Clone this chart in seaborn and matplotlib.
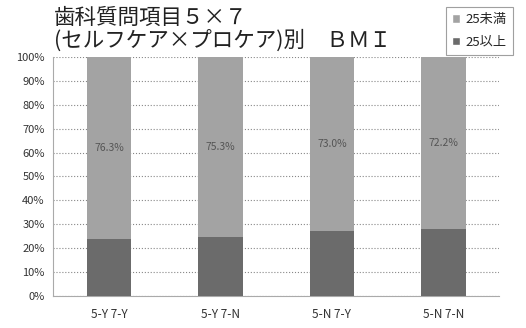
import numpy as np
import matplotlib.pyplot as plt
import pandas as pd
import seaborn as sns
from matplotlib.patches import Patch

# データ
categories = ['5-Y 7-Y', '5-Y 7-N', '5-N 7-Y', '5-N 7-N']
under25 = [76.3, 75.3, 73.0, 72.2]
over25 = [23.7, 24.7, 27.0, 27.8]
series_names = ['25未満', '25以上']

sns.set_style('white')
plt.rcParams['font.family'] = ['Noto Sans CJK JP', 'DejaVu Sans']

df = pd.DataFrame({'cat': categories, 'under': under25, 'over': over25})
df['total'] = df['under'] + df['over']

fig = plt.figure(figsize=(5.26, 3.28), dpi=100)
ax = fig.add_axes([0.101, 0.098, 0.848, 0.728])

light = '#a3a3a3'
dark = '#6b6b6b'

# 積み上げ棒（全体→下段）
sns.barplot(data=df, x='cat', y='total', color=light, width=0.4, ax=ax,
            saturation=1, linewidth=0, zorder=3)
sns.barplot(data=df, x='cat', y='over', color=dark, width=0.4, ax=ax,
            saturation=1, linewidth=0, zorder=4)

for i, (u, o) in enumerate(zip(under25, over25)):
    ax.text(i, o + u / 2, f'{u:.1f}%', ha='center', va='center',
            fontsize=7.5, color='#555555', zorder=5)

ax.set_ylim(0, 100)
ax.set_xlim(-0.5, 3.5)
ax.set_yticks(np.arange(0, 101, 10))
ax.set_yticklabels([f'{v}%' for v in range(0, 101, 10)], fontsize=8,
                   color='#333333')
ax.tick_params(axis='x', labelsize=8.5, colors='#333333', length=0, pad=9)
ax.tick_params(axis='y', length=0, pad=6)
ax.set_xlabel('')
ax.set_ylabel('')
ax.yaxis.grid(True, linestyle=':', color='#888888', linewidth=0.8, zorder=0)
ax.set_axisbelow(True)
for s in ['top', 'right']:
    ax.spines[s].set_visible(False)
ax.spines['left'].set_color('#aaaaaa')
ax.spines['bottom'].set_color('#aaaaaa')
ax.spines['left'].set_linewidth(0.8)
ax.spines['bottom'].set_linewidth(0.8)

fig.text(0.102, 0.98, '歯科質問項目５×７\n(セルフケア×プロケア)別　ＢＭＩ',
         ha='left', va='top', fontsize=15.5, linespacing=1.05, color='#222222')

handles = [Patch(facecolor=light, label=series_names[0]),
           Patch(facecolor=dark, label=series_names[1])]
leg = fig.legend(handles=handles, loc='upper right', bbox_to_anchor=(0.988, 1.0),
                 fontsize=9.5, frameon=True, fancybox=False, edgecolor='#888888',
                 handlelength=0.6, handleheight=0.6, handletextpad=0.4,
                 labelspacing=0.7, borderpad=0.5)
leg.get_frame().set_linewidth(0.8)

fig.savefig('out.png', dpi=100)
